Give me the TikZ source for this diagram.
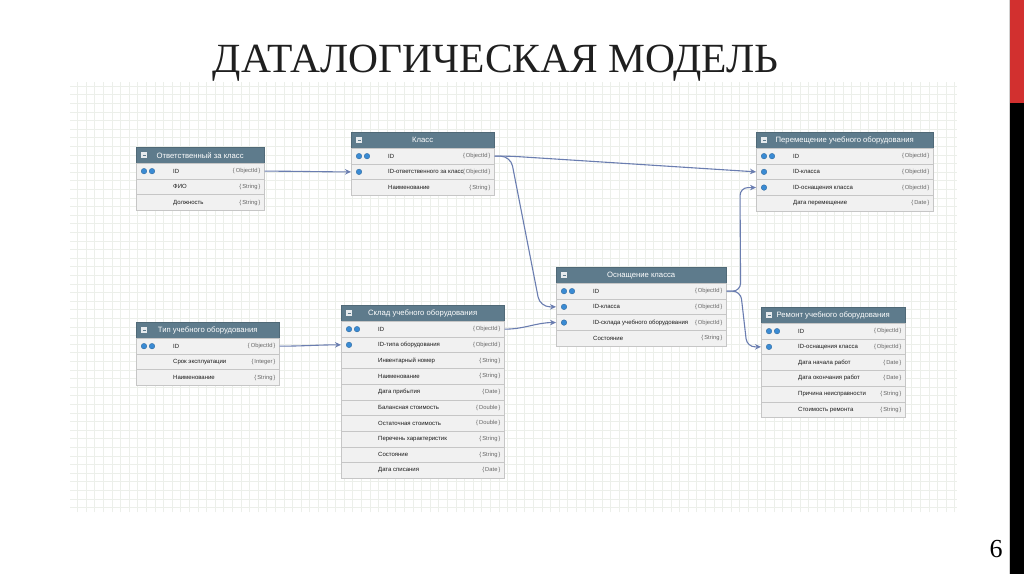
\documentclass[tikz,border=0pt]{standalone}
\usepackage{fontspec}
\setmainfont{Liberation Sans}
\newfontfamily\titlefont{Liberation Serif}
\usetikzlibrary{arrows.meta,calc}
\definecolor{hdrc}{HTML}{5E7B8C}
\definecolor{rowc}{HTML}{F1F1F1}
\definecolor{rowline}{HTML}{C6C6C6}
\definecolor{connc}{HTML}{6A7DB0}
\definecolor{iconb}{HTML}{3A8BD4}
\definecolor{barred}{HTML}{D2302F}
\definecolor{gridc}{HTML}{ECEFEA}
\tikzset{
 hdr/.style={fill=hdrc, draw=hdrc!85!black, line width=0.4pt, minimum height=16pt, inner sep=0pt, text=white, font=\fontsize{7.7}{8}\selectfont},
 rowbox/.style={fill=rowc, draw=rowline, line width=0.6pt, minimum height=15.7pt, inner sep=0pt},
 fname/.style={font=\fontsize{6}{7}\selectfont, text=black!90, inner sep=0pt, anchor=west},
 ftype/.style={font=\fontsize{5.8}{7}\selectfont, text=black!60, inner sep=0pt, anchor=east},
 conn/.style={draw=connc, line width=1.1pt, -{Stealth[length=6pt,width=5.5pt]}},
 keydot/.style={fill=iconb, draw=iconb!70!black, line width=0.3pt},
 hdricon/.style={fill=white!85!hdrc},
}
\newcommand{\ertable}[6]{%
 \node[hdr, minimum width=#4pt, anchor=north west] (#1) at (#2,#3) {#5};
 \path[hdricon] ($(#1.west)+(5,-3)$) rectangle ($(#1.west)+(11,3)$);
 \draw[hdrc, line width=0.6pt] ($(#1.west)+(6.5,0)$) -- ($(#1.west)+(9.5,0)$);
 \foreach[count=\i] \ic/\fn/\ty in {#6} {
  \node[rowbox, minimum width=#4pt, anchor=north west] (#1r\i) at ($(#2,#3)+(0,16+15.7*\i-15.7)$) {};
  \node[fname] (#1n\i) at ($(#1r\i.west)+(37,0)$) {\fn};
  \node[ftype] (#1t\i) at ($(#1r\i.east)+(-4,0)$) {\{\,\ty\,\}};
  \ifnum\ic>0 \path[keydot] ($(#1r\i.west)+(8,0)$) circle (2.8); \fi
  \ifnum\ic>1 \path[keydot] ($(#1r\i.west)+(16,0)$) circle (2.8); \fi
 }
}
\begin{document}
\begin{tikzpicture}[x=1pt,y=-1pt]
\useasboundingbox (0,0) rectangle (1024,574);
\fill[white] (0,0) rectangle (1024,574);
% grid area
\draw[gridc, line width=0.3pt, step=8.6pt] (70,512) grid (957,82);
% title
\node[font=\titlefont\fontsize{41.5}{42}\selectfont, text=black!88, anchor=base, inner sep=0pt] (title) at (495.5,72) {ДАТАЛОГИЧЕСКАЯ МОДЕЛЬ};
% side bar and page number
\fill[barred] (1010,0) rectangle (1024,103);
\fill[black] (1010,103) rectangle (1024,574);
\draw[gray!35, line width=0.6pt] (1009,0) -- (1009,574);
\node[font=\titlefont\fontsize{26}{26}\selectfont, anchor=base, inner sep=0pt] (pg) at (996,557) {6};
% tables
\ertable{ot}{136}{147}{128}{Ответственный за класс}{2/ID/ObjectId, 0/ФИО/String, 0/Должность/String}
\ertable{kl}{351}{132}{143}{Класс}{2/ID/ObjectId, 1/ID-ответственного за класс/ObjectId, 0/Наименование/String}
\ertable{pm}{756}{132}{177}{Перемещение учебного оборудования}{2/ID/ObjectId, 1/ID-класса/ObjectId, 1/ID-оснащения класса/ObjectId, 0/Дата перемещение/Date}
\ertable{os}{556}{267}{170}{Оснащение класса}{2/ID/ObjectId, 1/ID-класса/ObjectId, 1/ID-склада учебного оборудования/ObjectId, 0/Состояние/String}
\ertable{tp}{136}{322}{143}{Тип учебного оборудования}{2/ID/ObjectId, 0/Срок эксплуатации/Integer, 0/Наименование/String}
\ertable{sk}{341}{305}{163}{Склад учебного оборудования}{2/ID/ObjectId, 1/ID-типа оборудования/ObjectId, 0/Инвентарный номер/String, 0/Наименование/String, 0/Дата прибытия/Date, 0/Балансная стоимость/Double, 0/Остаточная стоимость/Double, 0/Перечень характеристик/String, 0/Состояние/String, 0/Дата списания/Date}
\ertable{rm}{761}{307}{144}{Ремонт учебного оборудования}{2/ID/ObjectId, 1/ID-оснащения класса/ObjectId, 0/Дата начала работ/Date, 0/Дата окончания работ/Date, 0/Причина неисправности/String, 0/Стоимость ремонта/String}
% connectors
\draw[conn] (otr1.east) to[out=0,in=180] (klr2.west);
\draw[conn,rounded corners=8] (klr1.east) -- ++(16,0) -- (pmr2.west);
\draw[conn,rounded corners=10] (klr1.east) -- ++(16,0) -- ($(osr2.west)+(-16,0)$) -- (osr2.west);
\draw[conn] (tpr1.east) to[out=0,in=180] (skr2.west);
\draw[conn] (skr1.east) to[out=0,in=180] (osr3.west);
\draw[conn,rounded corners=8] (osr1.east) -- ++(14,0) -- ($(pmr3.west)+(-16,0)$) -- (pmr3.west);
\draw[conn,rounded corners=8] (osr1.east) -- ++(14,0) -- ($(rmr2.west)+(-14,0)$) -- (rmr2.west);
\end{tikzpicture}
\end{document}
